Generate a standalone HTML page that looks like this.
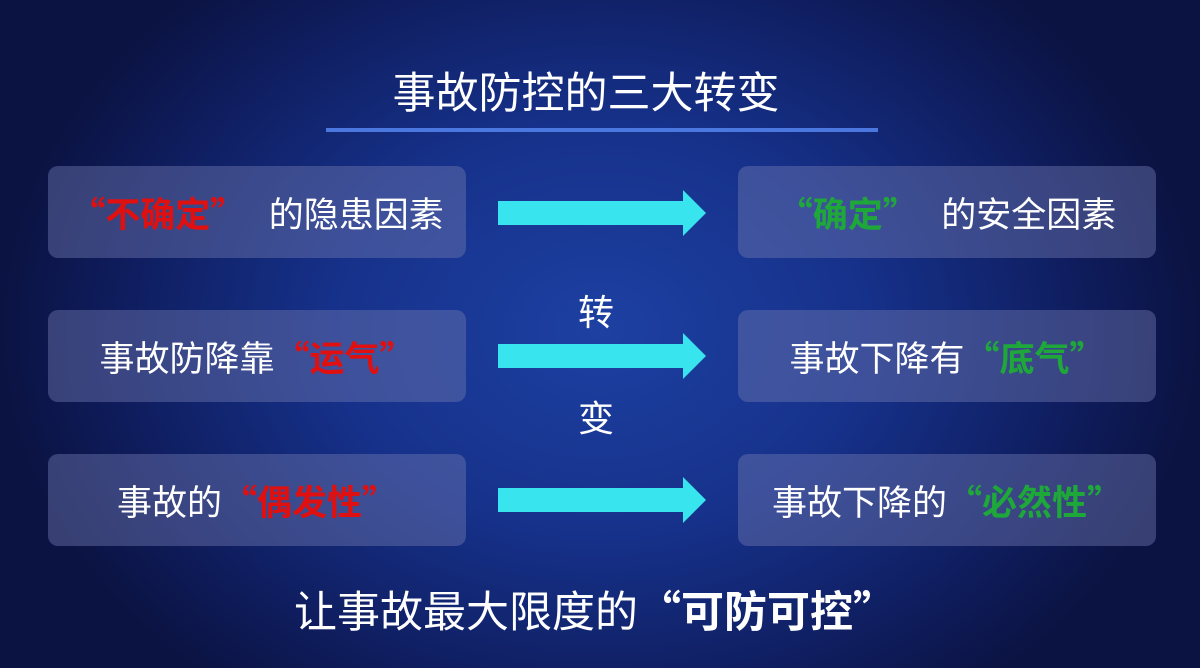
<!DOCTYPE html>
<html><head><meta charset="utf-8"><style>
body{margin:0;width:1200px;height:668px;overflow:hidden;font-family:"Noto Sans CJK SC",sans-serif;
background:radial-gradient(ellipse 600px 460px at 600px 330px,#1d40a2 0%,#16318a 45%,#0f1d5e 80%,#0b1342 100%);position:relative;color:#fff}
.t{position:absolute;white-space:nowrap}
.box{position:absolute;width:418px;height:92px;border-radius:10px;background:rgba(110,120,175,0.45);display:flex;align-items:center;justify-content:center;font-size:35px;color:#fff}
.r{color:#e01010;font-weight:bold}
.g{color:#1fa83a;font-weight:bold}
.arr{position:absolute;left:498px;width:208px;height:46px}
</style></head><body>
<div class="t" style="left:0;width:1172px;text-align:center;top:59px;font-size:43px">事故防控的三大转变</div>
<div class="t" style="left:326px;top:128px;width:552px;height:4px;background:#4a78e0"></div>

<div class="box" style="left:48px;top:166px"><span class="r">“不确定”</span>&nbsp;&nbsp;&nbsp;的隐患因素</div>
<div class="box" style="left:738px;top:166px"><span class="g">“确定”</span>&nbsp;&nbsp;&nbsp;的安全因素</div>
<div class="box" style="left:48px;top:310px">事故防降靠<span class="r">“运气”</span></div>
<div class="box" style="left:738px;top:310px">事故下降有<span class="g">“底气”</span></div>
<div class="box" style="left:48px;top:454px">事故的<span class="r">“偶发性”</span></div>
<div class="box" style="left:738px;top:454px">事故下降的<span class="g">“必然性”</span></div>

<svg class="arr" style="top:190px" viewBox="0 0 208 46"><polygon points="0,11 185,11 185,0 208,23 185,46 185,35 0,35" fill="#38e4ee"/></svg>
<svg class="arr" style="top:333px" viewBox="0 0 208 46"><polygon points="0,11 185,11 185,0 208,23 185,46 185,35 0,35" fill="#38e4ee"/></svg>
<svg class="arr" style="top:477px" viewBox="0 0 208 46"><polygon points="0,11 185,11 185,0 208,23 185,46 185,35 0,35" fill="#38e4ee"/></svg>

<div class="t" style="left:578px;top:284px;font-size:36px">转</div>
<div class="t" style="left:578px;top:390px;font-size:36px">变</div>

<div class="t" style="left:0;width:1190px;text-align:center;top:578px;font-size:43px">让事故最大限度的<b>“可防可控”</b></div>
</body></html>
